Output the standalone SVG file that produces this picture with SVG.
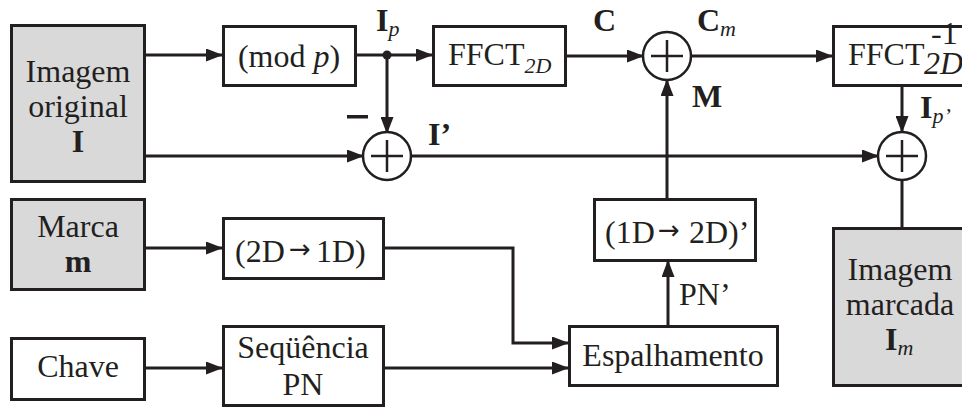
<svg xmlns="http://www.w3.org/2000/svg" width="962" height="408" viewBox="0 0 962 408">
<style>
.box{fill:#fff;stroke:#231f20;stroke-width:3}
.gray{fill:#d9d9d9;stroke:#231f20;stroke-width:3}
.w{fill:none;stroke:#231f20;stroke-width:3}
.sum{fill:#fff;stroke:#231f20;stroke-width:2.5}
.plus{stroke:#231f20;stroke-width:2.5;fill:none}
text{font-size:32px;fill:#231f20}
.c{text-anchor:middle}
.b{font-weight:bold}
.i{font-style:italic}
.arr{font-family:"DejaVu Sans",sans-serif;font-size:26px}
</style>
<defs>
<marker id="ah" markerWidth="17" markerHeight="13" refX="16" refY="6.5" orient="auto" markerUnits="userSpaceOnUse">
<path d="M0,0 L17,6.5 L0,13 Z" fill="#231f20"/>
</marker>
</defs>
<g id="connectors">
<path class="w" d="M146,55 H222" marker-end="url(#ah)"/>
<path class="w" d="M356,55 H432" marker-end="url(#ah)"/>
<path class="w" d="M387,55 V133" marker-end="url(#ah)"/>
<circle cx="387" cy="55" r="4.5" fill="#231f20"/>
<path class="w" d="M146,156 H363" marker-end="url(#ah)"/>
<path class="w" d="M411,156 H878" marker-end="url(#ah)"/>
<path class="w" d="M566,56 H643" marker-end="url(#ah)"/>
<path class="w" d="M691,56 H832" marker-end="url(#ah)"/>
<path class="w" d="M902,86 V132" marker-end="url(#ah)"/>
<path class="w" d="M902,180 V228"/>
<path class="w" d="M667,198 V80" marker-end="url(#ah)"/>
<path class="w" d="M668,325 V261" marker-end="url(#ah)"/>
<path class="w" d="M384,248 H513 V343 H568" marker-end="url(#ah)"/>
<path class="w" d="M384,368 H568" marker-end="url(#ah)"/>
<path class="w" d="M146,248 H222" marker-end="url(#ah)"/>
<path class="w" d="M146,368 H222" marker-end="url(#ah)"/>
</g>
<g font-family="'Liberation Serif', 'Times New Roman', 'DejaVu Serif', serif">
<g id="imagem-original">
<rect class="gray" x="11.5" y="25.5" width="133" height="156"/>
<text class="c" x="78" y="82">Imagem</text>
<text class="c" x="78" y="117">original</text>
<text class="c b" x="78" y="152">I</text>
</g>
<g id="mod-p">
<rect class="box" x="223.5" y="26.5" width="132" height="59"/>
<text class="c" x="289" y="67">(mod <tspan class="i">p</tspan>)</text>
</g>
<g id="ffct">
<rect class="box" x="433.5" y="26.5" width="132" height="59"/>
<text x="448" y="65">FFCT<tspan class="i" font-size="22" dy="8">2D</tspan></text>
</g>
<g id="sum-c">
<circle class="sum" cx="667" cy="56" r="24"/>
<path class="plus" d="M651,56 H683 M667,40 V72"/>
</g>
<g id="ffct-inv">
<rect class="box" x="833.5" y="26.5" width="140" height="59"/>
<text x="848" y="65">FFCT</text>
<text class="i" font-size="22" x="924" y="74">2D</text>
<text font-size="19" x="931" y="44">-1</text>
</g>
<g id="sum-i">
<circle class="sum" cx="387" cy="156" r="24"/>
<path class="plus" d="M371,156 H403 M387,140 V172"/>
</g>
<g id="sum-out">
<circle class="sum" cx="902" cy="156" r="24"/>
<path class="plus" d="M886,156 H918 M902,140 V172"/>
</g>
<g id="labels">
<text x="376" y="31"><tspan class="b">I</tspan><tspan class="i" font-size="22" dy="5">p</tspan></text>
<text class="b" x="593" y="31">C</text>
<text x="697" y="31"><tspan class="b">C</tspan><tspan class="i" font-size="22" dy="5">m</tspan></text>
<text class="b" x="692" y="107">M</text>
<rect x="347" y="115" width="21" height="3.5" fill="#231f20"/>
<text class="b" x="428" y="145">I’</text>
<text x="920" y="118"><tspan class="b">I</tspan><tspan class="i" font-size="22" dy="5">p’</tspan></text>
<text x="679" y="305">PN’</text>
</g>
<g id="marca">
<rect class="gray" x="11.5" y="199.5" width="133" height="90"/>
<text class="c" x="78" y="237">Marca</text>
<text class="c b" x="78" y="272">m</text>
</g>
<g id="2d-1d">
<rect class="box" x="223.5" y="218.5" width="160" height="60"/>
<text x="235" y="262">(2D<tspan class="arr" x="289" dy="-4">→</tspan><tspan x="316" dy="4">1D)</tspan></text>
</g>
<g id="chave">
<rect class="box" x="11.5" y="338.5" width="133" height="61"/>
<text class="c" x="78" y="377">Chave</text>
</g>
<g id="sequencia">
<rect class="box" x="223.5" y="326.5" width="160" height="79"/>
<text class="c" x="303" y="358">Seqüência</text>
<text class="c" x="303" y="395">PN</text>
</g>
<g id="espalhamento">
<rect class="box" x="569.5" y="326.5" width="208" height="59"/>
<text class="c" x="673" y="366">Espalhamento</text>
</g>
<g id="1d-2d">
<rect class="box" x="594.5" y="199.5" width="161" height="61"/>
<text x="605" y="243">(1D<tspan class="arr" x="658" dy="-4">→</tspan><tspan x="689" dy="4">2D)’</tspan></text>
</g>
<g id="imagem-marcada">
<rect class="gray" x="833.5" y="228.5" width="140" height="157"/>
<text class="c" x="900" y="280">Imagem</text>
<text class="c" x="900" y="315">marcada</text>
<text x="885" y="350"><tspan class="b">I</tspan><tspan class="i" font-size="22" dy="5">m</tspan></text>
</g>
</g>
</svg>
